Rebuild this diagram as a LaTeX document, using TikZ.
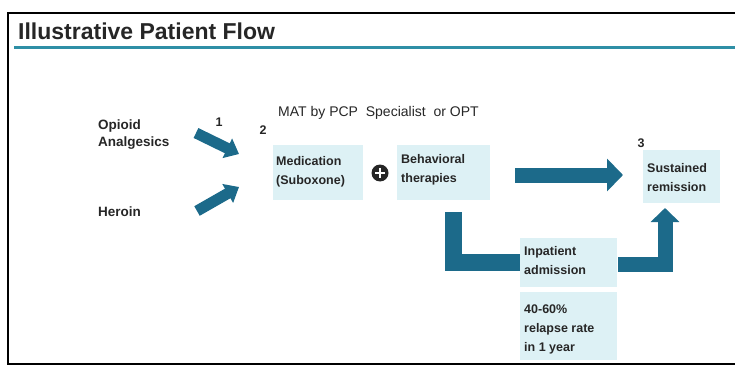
\documentclass[tikz,border=0pt]{standalone}
\usepackage{fontspec}
\setmainfont{Liberation Sans}
\usetikzlibrary{arrows.meta,calc}
\definecolor{arrowteal}{HTML}{1C6A8A}
\definecolor{lineteal}{HTML}{2E8FA6}
\definecolor{boxfill}{HTML}{DDF1F5}
\definecolor{txt}{HTML}{262626}
\tikzset{
  lbl/.style={anchor=west,inner sep=0pt,font=\bfseries\fontsize{13.5}{17}\selectfont,text=txt,align=left},
  num/.style={inner sep=0pt,font=\bfseries\fontsize{12.5}{14}\selectfont,text=txt},
  boxtext/.style={anchor=north west,inner sep=0pt,font=\bfseries\fontsize{12.5}{19}\selectfont,text=txt,align=left},
  flowbox/.style={fill=boxfill,draw=none},
  fatarrow/.style={draw=arrowteal,line cap=butt,line join=miter},
}
\begin{document}
\begin{tikzpicture}[x=1pt,y=-1pt]
\useasboundingbox (0,0) rectangle (735,366);
% frame
\draw[line width=2pt,black] (735,13) -- (8,13) -- (8,364) -- (735,364);
\draw[line width=3pt,lineteal] (14,48) -- (735,48);
\node[anchor=west,inner sep=0pt,font=\bfseries\fontsize{23}{26}\selectfont,text=txt] (title) at (18,31) {Illustrative Patient Flow};

% boxes
\fill[flowbox] (273,145) rectangle (363,200);
\fill[flowbox] (397,145) rectangle (490,200);
\fill[flowbox] (643,150) rectangle (720,203);
\fill[flowbox] (520,238) rectangle (617,287);
\fill[flowbox] (520,292) rectangle (617,360);

\node[boxtext] (med) at (276,156) {Medication\\(Suboxone)};
\node[boxtext] (beh) at (401,154) {Behavioral\\therapies};
\node[boxtext] (sus) at (647,163) {Sustained\\remission};
\node[boxtext] (inp) at (524,246) {Inpatient\\admission};
\node[boxtext] (rel) at (524,305) {40-60\%\\relapse rate\\in 1 year};

% left labels
\node[lbl] (opi) at (98,135) {Opioid\\Analgesics};
\node[lbl] (her) at (98,212) {Heroin};
\node[num] (n1) at (219,122) {1};
\node[num] (n2) at (263,130) {2};
\node[num] (n3) at (641,143) {3};
\node[anchor=west,inner sep=0pt,font=\fontsize{14}{16}\selectfont,text=txt] (mat) at (278,113) {MAT by PCP\ \ Specialist\ \ or OPT};

% plus
\node[circle,fill=black!85,minimum size=17pt,inner sep=0pt] (plus) at (380,173) {};
\draw[white,line width=2pt] ($(plus)+(-5,0)$) -- ($(plus)+(5,0)$);
\draw[white,line width=2pt] ($(plus)+(0,-5)$) -- ($(plus)+(0,5)$);

% arrows
\coordinate (a1s) at (196,133);
\coordinate (a1e) at (239,154);
\coordinate (a2s) at (197,211);
\coordinate (a2e) at (239,187);
\draw[fatarrow,line width=11pt,-{Triangle[width=21pt,length=13pt]}] (a1s) -- (a1e);
\draw[fatarrow,line width=11pt,-{Triangle[width=21pt,length=13pt]}] (a2s) -- (a2e);

\coordinate (bs) at (515,175);
\coordinate (be) at (623,175);
\draw[fatarrow,line width=15pt,-{Triangle[width=32pt,length=16pt]}] (bs) -- (be);

\coordinate (ls) at (453.5,212);
\coordinate (lc) at (453.5,262);
\coordinate (le) at (520,262);
\draw[fatarrow,line width=17pt] (ls) -- (lc) -- (le);

\coordinate (rs) at (618,264);
\coordinate (rc) at (665,264);
\coordinate (re) at (665,208);
\draw[fatarrow,line width=15pt,-{Triangle[width=28pt,length=14pt]}] (rs) -- (rc) -- (re);
\end{tikzpicture}
\end{document}
